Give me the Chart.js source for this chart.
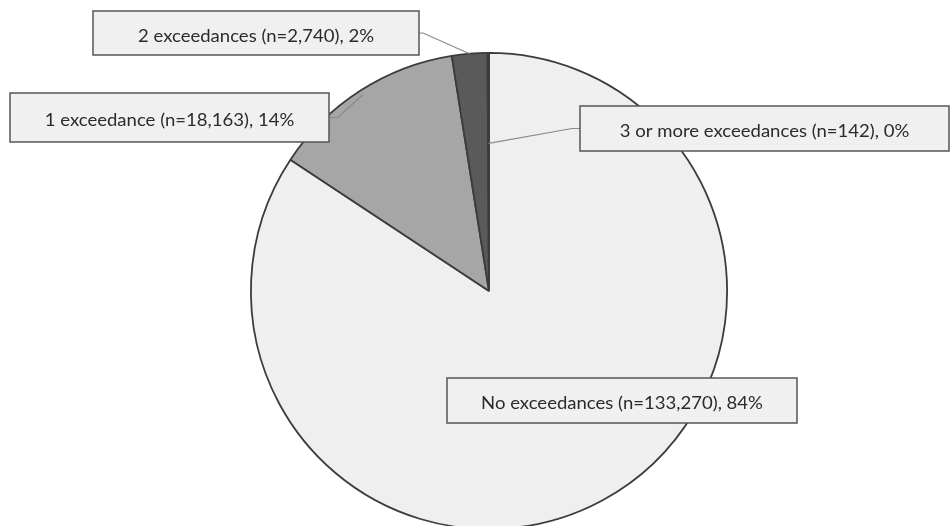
<!DOCTYPE html>
<html>
<head>
<meta charset="utf-8">
<script src="https://cdn.jsdelivr.net/npm/chart.js@4/dist/chart.umd.min.js"></script>
<style>
html,body{margin:0;padding:0;background:#fff;overflow:hidden;width:950px;height:526px;}
canvas{display:block;}
</style>
</head>
<body>
<canvas id="c" width="950" height="540"></canvas>
<script>
// Data
const categories = ['No exceedances', '1 exceedance', '2 exceedances', '3 or more exceedances'];
const counts = ['133,270', '18,163', '2,740', '142'];
const percentLabels = ['84%', '14%', '2%', '0%'];
// drawn slice shares (percent) as measured from the pie geometry
const shares = [84.3, 13.2, 2.4, 0.1];

const sliceColors = ['#efefef', '#a6a6a6', '#5a5a5a', '#8c8c8c'];

// label box layout (style only)
const labelBoxes = [
  {x1: 447, y1: 378, x2: 797, y2: 423, leader: null},
  {x1: 10,  y1: 93,  x2: 329, y2: 142, leader: {side: 'right', stub: 9, rf: 0.98}},
  {x1: 93,  y1: 11,  x2: 419, y2: 55,  leader: {side: 'right', stub: 4, rf: 1.0}},
  {x1: 580, y1: 106, x2: 949, y2: 151, leader: {side: 'left', stub: 8, rf: 0.62}}
];

const labelPlugin = {
  id: 'boxLabels',
  afterDatasetsDraw(chart) {
    const ctx = chart.ctx;
    const meta = chart.getDatasetMeta(0);
    ctx.save();
    // leader lines
    labelBoxes.forEach((b, i) => {
      if (!b.leader) return;
      const arc = meta.data[i];
      const p = arc.getProps(['x','y','startAngle','endAngle','outerRadius'], true);
      const mid = (p.startAngle + p.endAngle) / 2;
      const r = p.outerRadius * b.leader.rf;
      const tx = p.x + Math.cos(mid) * r;
      const ty = p.y + Math.sin(mid) * r;
      const ym = (b.y1 + b.y2) / 2;
      const bx = b.leader.side === 'right' ? b.x2 : b.x1;
      const sx = b.leader.side === 'right' ? bx + b.leader.stub : bx - b.leader.stub;
      ctx.beginPath();
      ctx.moveTo(bx, ym);
      ctx.lineTo(sx, ym);
      ctx.lineTo(tx, ty);
      ctx.strokeStyle = '#8a8a8a';
      ctx.lineWidth = 1.2;
      ctx.stroke();
    });
    // boxes + text
    const fs = 17.8;
    ctx.font = fs + 'px Lato';
    const w = ctx.measureText('2 exceedances (n=2,740), 2%').width;
    const sxScale = 236 / w;
    labelBoxes.forEach((b, i) => {
      ctx.fillStyle = '#f0f0f0';
      ctx.fillRect(b.x1, b.y1, b.x2 - b.x1, b.y2 - b.y1);
      ctx.strokeStyle = '#555555';
      ctx.lineWidth = 1.5;
      ctx.strokeRect(b.x1, b.y1, b.x2 - b.x1, b.y2 - b.y1);
      ctx.fillStyle = '#2b2b2b';
      ctx.font = fs + 'px Lato';
      ctx.textAlign = 'center';
      ctx.textBaseline = 'alphabetic';
      const txt = categories[i] + ' (n=' + counts[i] + '), ' + percentLabels[i];
      ctx.save();
      ctx.translate((b.x1 + b.x2) / 2, (b.y1 + b.y2) / 2 + 8.7);
      ctx.scale(sxScale, 1);
      ctx.fillText(txt, 0, 0);
      ctx.restore();
    });
    ctx.restore();
  }
};

new Chart(document.getElementById('c'), {
  type: 'pie',
  data: {
    labels: categories,
    datasets: [{
      data: shares,
      backgroundColor: sliceColors,
      borderColor: '#3c3c3c',
      borderWidth: 1.8
    }]
  },
  options: {
    responsive: false,
    animation: false,
    layout: {padding: {left: 250, right: 222, top: 52, bottom: 10}},
    plugins: {
      legend: {display: false},
      tooltip: {enabled: false},
      title: {display: false}
    }
  },
  plugins: [labelPlugin]
});
</script>
</body>
</html>
